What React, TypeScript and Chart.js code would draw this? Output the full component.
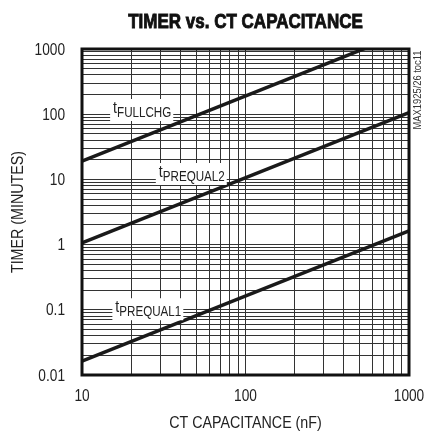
import React, { useEffect, useRef } from "react";
import { Chart, registerables } from "chart.js";

Chart.register(...registerables);

const capacitance = [10, 1000];
const tFullChg = [19, 1900];
const tPrequal2 = [1.06, 106];
const tPrequal1 = [0.0163, 1.63];
const xDecades = [10, 100, 1000];
const xTickLabels = ["10", "100", "1000"];
const yDecades = [0.01, 0.1, 1, 10, 100, 1000];
const yTickLabels = ["0.01", "0.1", "1", "10", "100", "1000"];
const curveLabels = [
  { main: "t", sub: "FULLCHG", x: 15.5, y: 116 },
  { main: "t", sub: "PREQUAL2", x: 29.5, y: 12.1 },
  { main: "t", sub: "PREQUAL1", x: 16, y: 0.102 },
];

const FONT = '"Liberation Sans", Arial, sans-serif';
const NARROW = 0.83;

function logTicks(min: number, max: number) {
  const out: { value: number }[] = [];
  for (let d = min; d < max * 1.0001; d *= 10) {
    for (let m = 1; m <= 9; m++) {
      const v = d * m;
      if (v <= max * 1.0001) out.push({ value: v });
    }
  }
  return out;
}

function narrowText(
  ctx: CanvasRenderingContext2D,
  text: string,
  x: number,
  y: number,
  font: string,
  align: CanvasTextAlign,
  baseline: CanvasTextBaseline,
  sx = NARROW,
  rot = 0,
  stroke = 0
) {
  ctx.save();
  ctx.translate(x, y);
  if (rot) ctx.rotate(rot);
  ctx.scale(sx, 1);
  ctx.font = font;
  ctx.textAlign = align;
  ctx.textBaseline = baseline;
  ctx.fillText(text, 0, 0);
  if (stroke) {
    ctx.lineWidth = stroke;
    ctx.strokeStyle = ctx.fillStyle as string;
    ctx.strokeText(text, 0, 0);
  }
  ctx.restore();
}

const decorPlugin = {
  id: "decor",
  afterDatasetsDraw(chart: any) {
    const { ctx, chartArea, scales } = chart;
    ctx.save();
    // curve labels
    curveLabels.forEach((l) => {
      const px = scales.x.getPixelForValue(l.x);
      const py = scales.y.getPixelForValue(l.y);
      ctx.font = `17px ${FONT}`;
      const w1 = ctx.measureText(l.main).width * NARROW;
      ctx.font = `14px ${FONT}`;
      const w2 = ctx.measureText(l.sub).width * NARROW;
      ctx.fillStyle = "#fff";
      ctx.fillRect(px - 3, py - 11, w1 + w2 + 5, 22);
      ctx.fillStyle = "#222";
      narrowText(ctx, l.main, px, py + 3, `17px ${FONT}`, "left", "alphabetic");
      narrowText(ctx, l.sub, px + w1, py + 7, `14px ${FONT}`, "left", "alphabetic");
    });
    // frame
    ctx.strokeStyle = "#111";
    ctx.lineWidth = 3;
    ctx.strokeRect(
      chartArea.left,
      chartArea.top,
      chartArea.right - chartArea.left,
      chartArea.bottom - chartArea.top
    );
    ctx.fillStyle = "#222";
    // tick labels
    xDecades.forEach((v, i) => {
      narrowText(ctx, xTickLabels[i], scales.x.getPixelForValue(v), 396, `16.5px ${FONT}`, "center", "middle");
    });
    yDecades.forEach((v, i) => {
      narrowText(ctx, yTickLabels[i], 65, scales.y.getPixelForValue(v) + 1, `16.5px ${FONT}`, "right", "middle");
    });
    // axis titles
    narrowText(ctx, "CT CAPACITANCE (nF)", (chartArea.left + chartArea.right) / 2, 423, `17px ${FONT}`, "center", "middle", 0.84);
    narrowText(ctx, "TIMER (MINUTES)", 18, (chartArea.top + chartArea.bottom) / 2, `17px ${FONT}`, "center", "middle", 0.84, -Math.PI / 2);
    // title
    ctx.fillStyle = "#111";
    narrowText(ctx, "TIMER vs. CT CAPACITANCE", (chartArea.left + chartArea.right) / 2, 22, `bold 20px ${FONT}`, "center", "middle", 0.85, 0, 0.9);
    // side code
    ctx.fillStyle = "#333";
    narrowText(ctx, "MAX1925/26 toc11", 418, 90, `11px ${FONT}`, "center", "middle", 0.85, -Math.PI / 2);
    ctx.restore();
  },
};

export default function App() {
  const ref = useRef<HTMLCanvasElement>(null);
  useEffect(() => {
    if (!ref.current) return;
    const mk = (vals: number[]) => capacitance.map((c, i) => ({ x: c, y: vals[i] }));
    const ds = (label: string, vals: number[]) => ({
      label,
      data: mk(vals),
      borderColor: "#1a1a1a",
      borderWidth: 3.5,
      pointRadius: 0,
      fill: false,
    });
    const chart = new Chart(ref.current, {
      type: "line",
      data: {
        datasets: [
          ds("tFULLCHG", tFullChg),
          ds("tPREQUAL2", tPrequal2),
          ds("tPREQUAL1", tPrequal1),
        ],
      },
      options: {
        animation: false,
        responsive: false,
        layout: { padding: { top: 49, right: 15, left: 0, bottom: 0 } },
        plugins: { legend: { display: false }, tooltip: { enabled: false } },
        scales: {
          x: {
            type: "logarithmic",
            min: 10,
            max: 1000,
            afterBuildTicks: (s: any) => {
              s.ticks = logTicks(10, 1000);
            },
            afterFit: (s: any) => {
              s.height = 59;
              s.paddingLeft = 0;
              s.paddingRight = 0;
            },
            ticks: { display: false, autoSkip: false },
            grid: { color: "#333", lineWidth: 1, drawTicks: false },
            border: { display: false },
          },
          y: {
            type: "logarithmic",
            min: 0.01,
            max: 1000,
            afterBuildTicks: (s: any) => {
              s.ticks = logTicks(0.01, 1000);
            },
            afterFit: (s: any) => {
              s.width = 82;
              s.paddingTop = 0;
              s.paddingBottom = 0;
            },
            ticks: { display: false, autoSkip: false },
            grid: { color: "#333", lineWidth: 1, drawTicks: false },
            border: { display: false },
          },
        },
      },
      plugins: [decorPlugin],
    } as any);
    return () => chart.destroy();
  }, []);
  return (
    <div style={{ position: "fixed", left: 0, top: 0, width: 424, height: 434, background: "#fff" }}>
      <canvas ref={ref} width={424} height={434} style={{ width: 424, height: 434 }} />
    </div>
  );
}
